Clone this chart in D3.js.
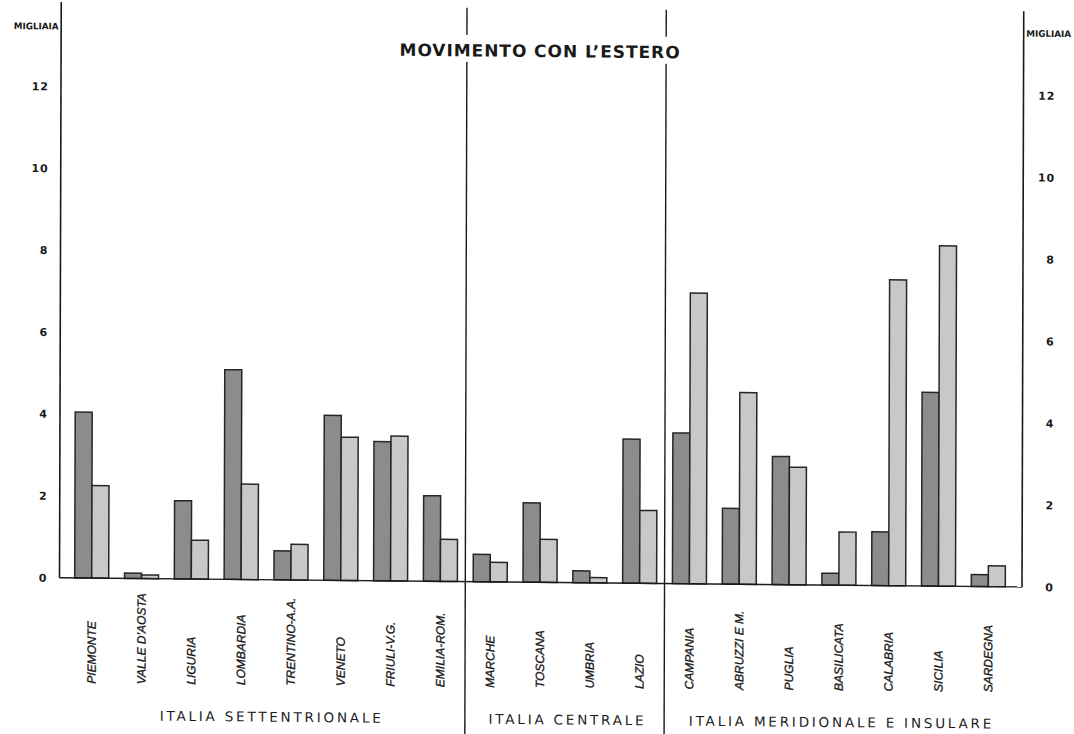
<!DOCTYPE html>
<html>
<head>
<meta charset="utf-8">
<script src="https://cdn.jsdelivr.net/npm/d3@7"></script>
<style>
  html, body { margin: 0; padding: 0; background: #ffffff; }
  svg { display: block; }
</style>
</head>
<body>
<svg id="chart" width="1074" height="734"></svg>
<script>
// Regions of Italy, in the order drawn left to right
const regions = [
  "PIEMONTE", "VALLE D’AOSTA", "LIGURIA", "LOMBARDIA", "TRENTINO-A.A.",
  "VENETO", "FRIULI-V.G.", "EMILIA-ROM.",
  "MARCHE", "TOSCANA", "UMBRIA", "LAZIO",
  "CAMPANIA", "ABRUZZI E M.", "PUGLIA", "BASILICATA", "CALABRIA", "SICILIA", "SARDEGNA"
];

// Movement abroad, thousands (dark bar first, light bar second)
const darkValues = [4.05, 0.13, 1.91, 5.12, 0.71, 4.03, 3.40, 2.09,
                    0.67, 1.94, 0.29, 3.52,
                    3.68, 1.85, 3.13, 0.29, 1.31, 4.73, 0.29];
const lightValues = [2.26, 0.09, 0.95, 2.33, 0.87, 3.50, 3.54, 1.03,
                     0.48, 1.05, 0.13, 1.78,
                     7.10, 4.68, 2.87, 1.30, 7.47, 8.31, 0.51];

// Geographic groups and how many regions each contains
const groupNames = ["ITALIA  SETTENTRIONALE", "ITALIA  CENTRALE", "ITALIA  MERIDIONALE  E  INSULARE"];
const groupSizes = [8, 4, 7];

const tickValues = [0, 2, 4, 6, 8, 10, 12];
const titleText = "MOVIMENTO  CON  L’ESTERO";
const unitLabel = "MIGLIAIA";

const svg = d3.select("#chart");
svg.append("rect").attr("width", 1074).attr("height", 734).attr("fill", "#ffffff");

// The printed sheet sits slightly askew; a small shear reproduces that
const k = 0.0095, c = -0.003;
const g = svg.append("g")
  .attr("transform", `matrix(1,${k},${c},1,${(580 * 0.003).toFixed(2)},${(-60 * k).toFixed(2)})`);

const leftX = 59.5, rightX = 1022;
const x = d3.scalePoint().domain(regions).range([91.7, 988.3]);
const y = d3.scaleLinear().domain([0, 12]).range([577.8, 86.4]);
const barW = 17;

const ink = "#1a1a1a";

// Group dividers between the three areas
let acc = 0;
const dividerXs = [];
groupSizes.slice(0, -1).forEach(n => {
  acc += n;
  dividerXs.push((x(regions[acc - 1]) + x(regions[acc])) / 2);
});
g.selectAll("line.divider").data(dividerXs).join("line")
  .attr("class", "divider")
  .attr("x1", d => d).attr("x2", d => d)
  .attr("y1", 4).attr("y2", 733)
  .attr("stroke", ink).attr("stroke-width", 1.4);

// Title on a white band that interrupts the dividers
g.append("rect").attr("x", 392).attr("y", 31).attr("width", 292).attr("height", 27).attr("fill", "#ffffff");
g.append("text")
  .attr("x", 538).attr("y", 52.5)
  .attr("text-anchor", "middle")
  .attr("font-family", "DejaVu Sans")
  .attr("font-weight", "bold")
  .attr("font-size", 17)
  .attr("textLength", 280)
  .attr("lengthAdjust", "spacing")
  .attr("fill", ink)
  .text(titleText);

// Bars
const bars = g.append("g");
regions.forEach((r, i) => {
  bars.append("rect")
    .attr("x", x(r) - barW).attr("y", y(darkValues[i]))
    .attr("width", barW).attr("height", y(0) - y(darkValues[i]))
    .attr("fill", "#8c8c8c").attr("stroke", "#262626").attr("stroke-width", 1.5);
  bars.append("rect")
    .attr("x", x(r)).attr("y", y(lightValues[i]))
    .attr("width", barW).attr("height", y(0) - y(lightValues[i]))
    .attr("fill", "#c8c8c8").attr("stroke", "#262626").attr("stroke-width", 1.5);
});

// Axis lines and baseline
g.append("line").attr("x1", leftX).attr("x2", leftX).attr("y1", 2).attr("y2", y(0))
  .attr("stroke", ink).attr("stroke-width", 1.6);
g.append("line").attr("x1", rightX).attr("x2", rightX).attr("y1", 2).attr("y2", y(0))
  .attr("stroke", ink).attr("stroke-width", 1.6);
g.append("line").attr("x1", leftX).attr("x2", rightX).attr("y1", y(0)).attr("y2", y(0))
  .attr("stroke", ink).attr("stroke-width", 1.4);

// Tick labels, both sides
const leftAxis = g.append("g").attr("transform", `translate(${leftX},0)`)
  .call(d3.axisLeft(y).tickValues(tickValues).tickSize(0).tickPadding(12));
const rightAxis = g.append("g").attr("transform", `translate(${rightX},0)`)
  .call(d3.axisRight(y).tickValues(tickValues).tickSize(0).tickPadding(32));
[leftAxis, rightAxis].forEach(ax => {
  ax.select(".domain").remove();
  ax.selectAll("text")
    .attr("font-family", "DejaVu Sans")
    .attr("font-weight", "bold")
    .attr("font-size", 11)
    .attr("letter-spacing", 1)
    .attr("fill", ink);
});
rightAxis.selectAll("text").attr("text-anchor", "end");

// Unit labels
g.append("text").attr("x", 34.5).attr("y", 29.5).attr("text-anchor", "middle")
  .attr("font-family", "DejaVu Sans Condensed").attr("font-weight", "bold").attr("font-size", 9)
  .attr("textLength", 45).attr("lengthAdjust", "spacingAndGlyphs")
  .attr("fill", ink).text(unitLabel);
g.append("text").attr("x", 1047).attr("y", 27.5).attr("text-anchor", "middle")
  .attr("font-family", "DejaVu Sans Condensed").attr("font-weight", "bold").attr("font-size", 9)
  .attr("textLength", 45).attr("lengthAdjust", "spacingAndGlyphs")
  .attr("fill", ink).text(unitLabel);

// Region names, rotated and bottom aligned
g.selectAll("text.region").data(regions).join("text")
  .attr("class", "region")
  .attr("transform", d => `translate(${x(d)},683.5) rotate(-90)`)
  .attr("dy", "0.35em")
  .attr("text-anchor", "start")
  .attr("font-family", "Liberation Sans")
  .attr("font-style", "italic")
  .attr("font-size", 12)
  .attr("fill", ink)
  .attr("stroke", ink)
  .attr("stroke-width", 0.35)
  .text(d => d);

// Group names under the regions
let start = 0;
groupNames.forEach((name, gi) => {
  const members = regions.slice(start, start + groupSizes[gi]);
  start += groupSizes[gi];
  const cx = d3.mean(members, m => x(m)) + (gi === 0 ? 6 : 3);
  g.append("text")
    .attr("x", cx).attr("y", 714.7)
    .attr("dominant-baseline", "central")
    .attr("text-anchor", "middle")
    .attr("font-family", "DejaVu Sans")
    .attr("font-size", 13.5)
    .attr("letter-spacing", 2.8)
    .attr("fill", ink)
    .text(name);
});
</script>
</body>
</html>
